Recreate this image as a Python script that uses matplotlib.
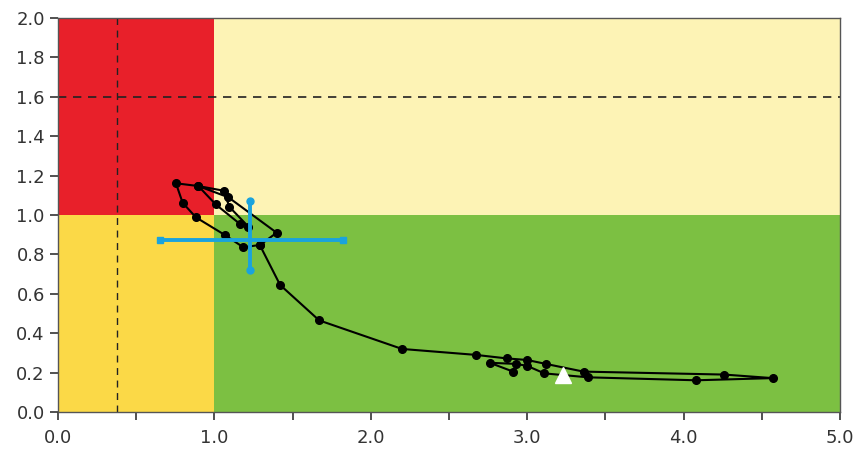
import matplotlib
matplotlib.use("Agg")
import matplotlib.pyplot as plt
import numpy as np

plt.rcParams['font.family'] = ['DejaVu Sans']

# Trajectory (B/Bmsy, F/Fmsy), chronological
traj_x = [2.91, 2.76, 2.93, 3.00, 3.11, 3.39, 4.08, 4.57, 4.26, 3.36, 3.12, 3.00, 2.87, 2.67,
          2.20, 1.67, 1.42, 1.29, 1.185, 1.068, 0.882, 0.797, 0.754, 0.897, 1.008, 1.164,
          1.217, 1.095, 1.061, 0.897, 1.089, 1.398, 1.292]
traj_y = [0.205, 0.250, 0.244, 0.234, 0.196, 0.176, 0.161, 0.172, 0.190, 0.205, 0.244, 0.264, 0.272, 0.290,
          0.320, 0.465, 0.645, 0.848, 0.836, 0.898, 0.988, 1.062, 1.161, 1.147, 1.054, 0.954,
          0.941, 1.042, 1.123, 1.147, 1.090, 0.910, 0.848]

# Current-status marker with uncertainty
cur_x, cur_y = 1.23, 0.875
cur_xerr = [0.65, 1.82]
cur_yerr = [0.72, 1.07]

# Triangle marker
tri_x, tri_y = [3.23], [0.19]

# Reference lines
vref = 0.38
href = 1.6

xticks_major = [0.0, 1.0, 2.0, 3.0, 4.0, 5.0]
xticks_minor = [0.5, 1.5, 2.5, 3.5, 4.5]
yticks = [0.0, 0.2, 0.4, 0.6, 0.8, 1.0, 1.2, 1.4, 1.6, 1.8, 2.0]

fig = plt.figure(figsize=(8.56, 4.53), dpi=100)
ax = fig.add_axes([58/856, 41/453, 782/856, 394/453])
ax.set_xlim(0, 5)
ax.set_ylim(0, 2)

red = '#E8202A'
pale = '#FDF3B5'
yellow = '#FBD947'
green = '#7CC042'
ax.axvspan(0, 1, ymin=0.5, ymax=1, color=red, lw=0, zorder=0)
ax.axvspan(1, 5, ymin=0.5, ymax=1, color=pale, lw=0, zorder=0)
ax.axvspan(0, 1, ymin=0, ymax=0.5, color=yellow, lw=0, zorder=0)
ax.axvspan(1, 5, ymin=0, ymax=0.5, color=green, lw=0, zorder=0)

ax.axvline(vref, color='#222222', ls=(0, (5, 4)), lw=1.0, zorder=1)
ax.axhline(href, color='#222222', ls=(0, (5, 4)), lw=1.2, zorder=1)

ax.plot(traj_x, traj_y, color='black', lw=1.5, marker='o', ms=5.5, zorder=3)

blue = '#1AA3DD'
ax.plot(cur_xerr, [cur_y, cur_y], color=blue, lw=2.8, marker='s', ms=5, zorder=4)
ax.plot([cur_x, cur_x], cur_yerr, color=blue, lw=2.8, solid_capstyle='round', zorder=4)
ax.plot([cur_x, cur_x], cur_yerr, color=blue, lw=0, marker='o', ms=5, zorder=4)

ax.plot(tri_x, tri_y, marker='^', color='white', ms=11, lw=0, zorder=5)

ax.set_xticks(xticks_major)
ax.set_xticklabels([f"{v:.1f}" for v in xticks_major])
ax.set_xticks(xticks_minor, minor=True)
ax.set_yticks(yticks)
ax.set_yticklabels([f"{v:.1f}" for v in yticks])
ax.tick_params(axis='both', which='both', direction='out', length=6, width=1.2,
               colors='#333333', labelsize=13)
ax.tick_params(axis='x', which='both', pad=6)
for s in ax.spines.values():
    s.set_color('#555555')
    s.set_linewidth(1.0)

fig.savefig('out.png', dpi=100)
